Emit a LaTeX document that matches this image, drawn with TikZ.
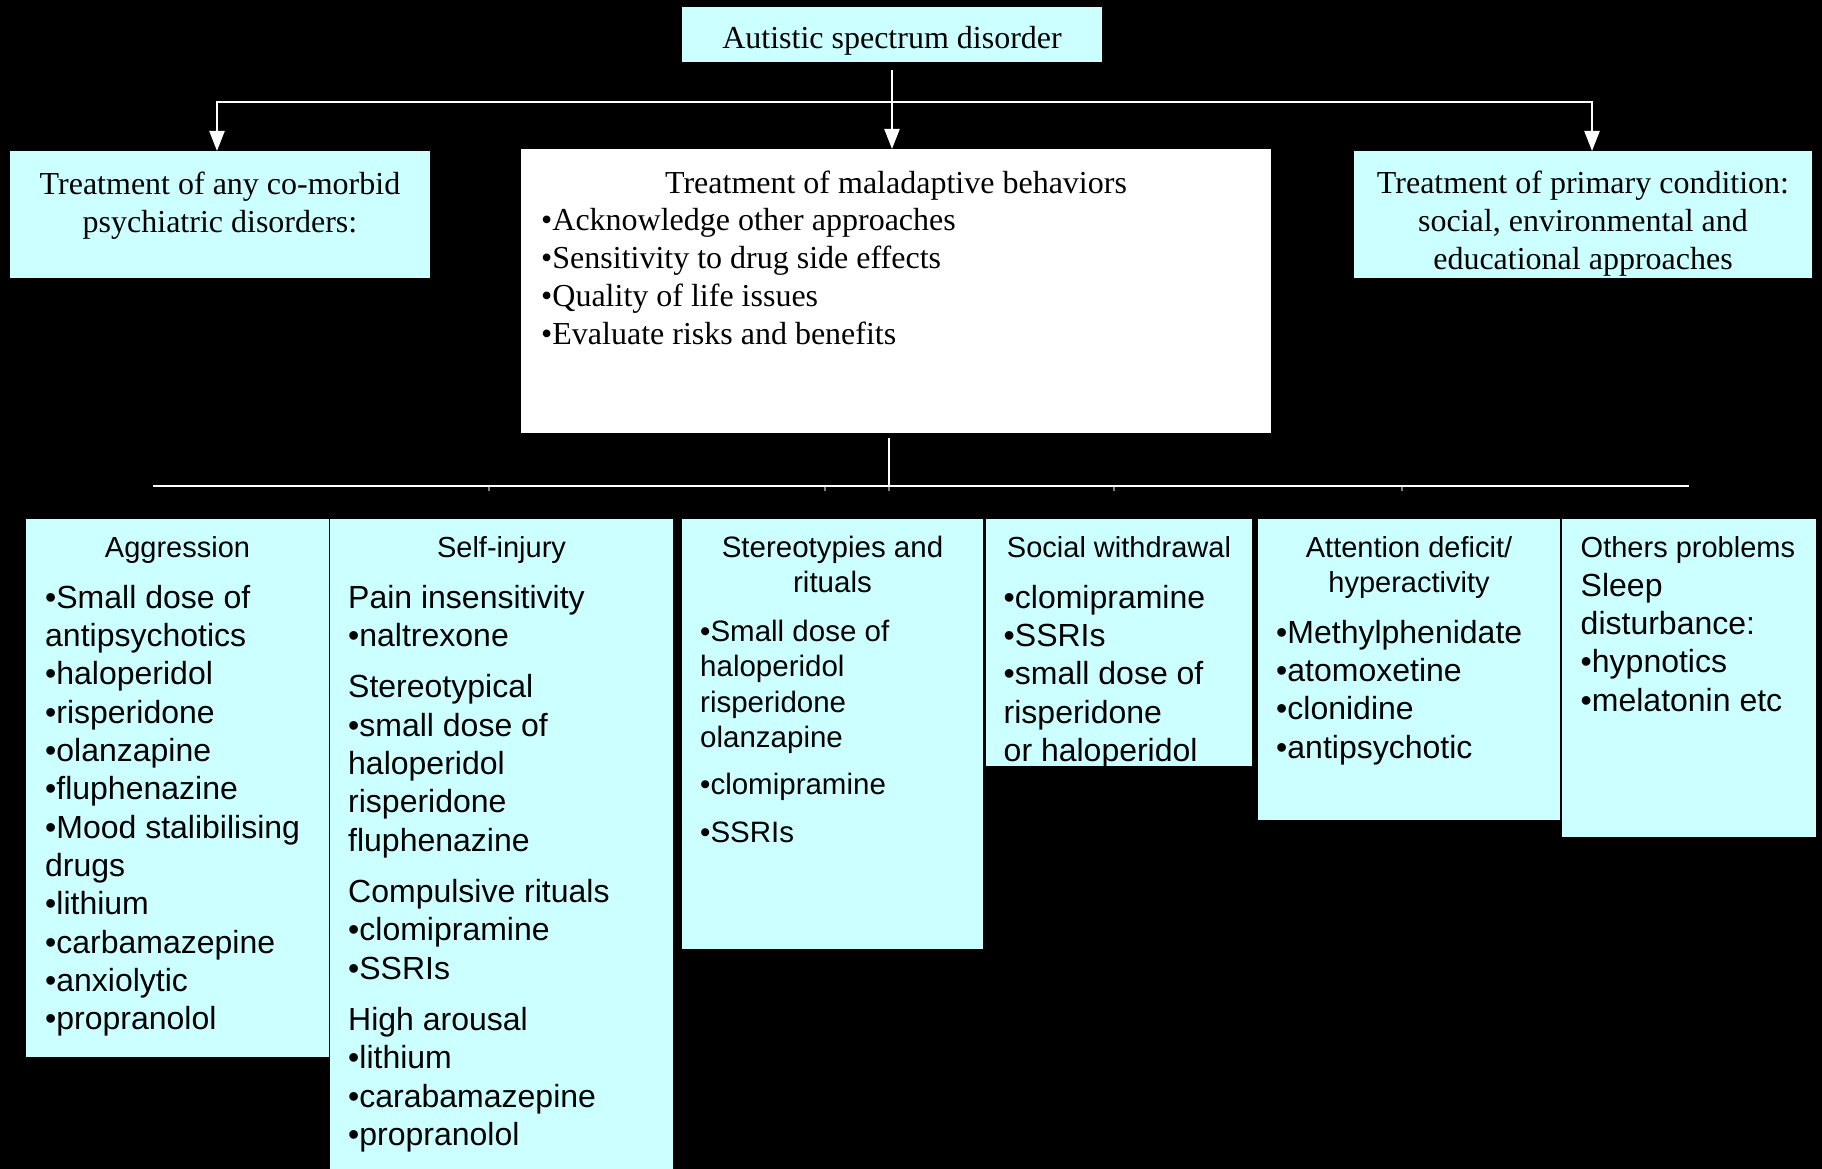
\documentclass[tikz,border=0pt]{standalone}
\usepackage{fontspec}
\setmainfont{Liberation Serif}
\setsansfont{Liberation Sans}
\usetikzlibrary{positioning,arrows.meta}
\definecolor{boxcyan}{HTML}{CCFFFF}

\begin{document}
\begin{tikzpicture}[x=1pt,y=-1pt,
    cbox/.style={fill=boxcyan,anchor=north west,inner sep=0pt,outer sep=0pt},
    wbox/.style={cbox,fill=white},
    tms/.style={font=\fontsize{32}{38}\selectfont,inner sep=0pt,align=center},
    hd/.style={font=\sffamily\fontsize{29}{35}\selectfont,inner sep=0pt,align=center},
    bd/.style={font=\sffamily\fontsize{32}{38.3}\selectfont,inner sep=0pt,align=left},
    sm/.style={font=\sffamily\fontsize{29.5}{35.3}\selectfont,inner sep=0pt,align=left},
    wline/.style={white,line width=2.2pt},
    arr/.style={-{Triangle[width=15pt,length=20pt]}}]
    \fill[black] (0,0) rectangle (1822,1169);
    \useasboundingbox (0,0) rectangle (1822,1169);

    \node[cbox,tms,minimum width=420pt,minimum height=55pt,text height=28pt,text depth=0pt] (asd) at (682,7) {Autistic spectrum disorder};
    \node[cbox,minimum width=420pt,minimum height=127pt] (cmb) at (10,151) {};
    \node[tms,below=21pt of cmb.north] (cmbt) {Treatment of any co-morbid\\psychiatric disorders:};
    \node[wbox,minimum width=750pt,minimum height=284pt] (mal) at (521,149) {};
    \node[tms,below=22pt of mal.north] (malt) {Treatment of maladaptive behaviors};
    \node[tms,align=left,below right=59pt and 20pt of mal.north west] (malb) {•Acknowledge other approaches\\•Sensitivity to drug side effects\\•Quality of life issues\\•Evaluate risks and benefits};
    \node[cbox,minimum width=458pt,minimum height=127pt] (prim) at (1354,151) {};
    \node[tms,below=20pt of prim.north] (primt) {Treatment of primary condition:\\social, environmental and\\educational approaches};

    \node[cbox,minimum width=303pt,minimum height=538pt] (aggr) at (26,519) {};
    \node[hd,below=17.6pt of aggr.north] (aggrh) {Aggression};
    \node[bd,below right=66pt and 19pt of aggr.north west] (aggrb) {•Small dose of\\antipsychotics\\•haloperidol\\•risperidone\\•olanzapine\\•fluphenazine\\•Mood stalibilising\\drugs\\•lithium\\•carbamazepine\\•anxiolytic\\•propranolol};
    \node[cbox,minimum width=343pt,minimum height=650pt] (self) at (330,519) {};
    \node[hd,below=17.6pt of self.north] (selfh) {Self-injury};
    \node[bd,below right=66pt and 18pt of self.north west] (selfb) {Pain insensitivity\\•naltrexone\\[13pt]Stereotypical\\•small dose of\\haloperidol\\risperidone\\fluphenazine\\[13pt]Compulsive rituals\\•clomipramine\\•SSRIs\\[13pt]High arousal\\•lithium\\•carabamazepine\\•propranolol};
    \node[cbox,minimum width=301pt,minimum height=430pt] (ster) at (682,519) {};
    \node[sm,align=center,below=17pt of ster.north] (sterh) {Stereotypies and\\rituals};
    \node[sm,below right=101pt and 18pt of ster.north west] (sterb) {•Small dose of\\haloperidol\\risperidone\\olanzapine\\[12pt]•clomipramine\\[12pt]•SSRIs};
    \node[cbox,minimum width=266pt,minimum height=247pt] (soc) at (986,519) {};
    \node[hd,below=17.6pt of soc.north] (soch) {Social withdrawal};
    \node[bd,below right=66pt and 17.5pt of soc.north west] (socb) {•clomipramine\\•SSRIs\\•small dose of\\risperidone\\or haloperidol};
    \node[cbox,minimum width=302pt,minimum height=301pt] (att) at (1258,519) {};
    \node[hd,below=17.6pt of att.north] (atth) {Attention deficit/\\hyperactivity};
    \node[bd,below right=101pt and 18pt of att.north west] (attb) {•Methylphenidate\\•atomoxetine\\•clonidine\\•antipsychotic};
    \node[cbox,minimum width=254pt,minimum height=318pt] (oth) at (1562,519) {};
    \node[hd,align=left,below right=17.6pt and 18.5pt of oth.north west] (othh) {Others problems};
    \node[bd,below right=54pt and 18.5pt of oth.north west] (othb) {Sleep\\disturbance:\\•hypnotics\\•melatonin etc};

    \coordinate (fork) at ([yshift=-40pt]asd.south);
    \coordinate (busl) at (153,486);
    \coordinate (busr) at (1689,486);
    \draw[wline,arr] ([yshift=-8pt]asd.south) -- (asd.south |- mal.north);
    \draw[wline,arr] (fork) -| ([xshift=-3pt]cmb.north);
    \draw[wline,arr] (fork) -| ([xshift=9pt]prim.north);
    \draw[wline] ([xshift=-7pt,yshift=-5pt]mal.south) -- ([xshift=-7pt]mal.south |- busl);
    \draw[wline] (busl) -- (busr);
    \foreach \t in {489,825,889,1114,1402}
      \draw[gray,line width=2pt] (\t,487) -- (\t,491);
\end{tikzpicture}
\end{document}
